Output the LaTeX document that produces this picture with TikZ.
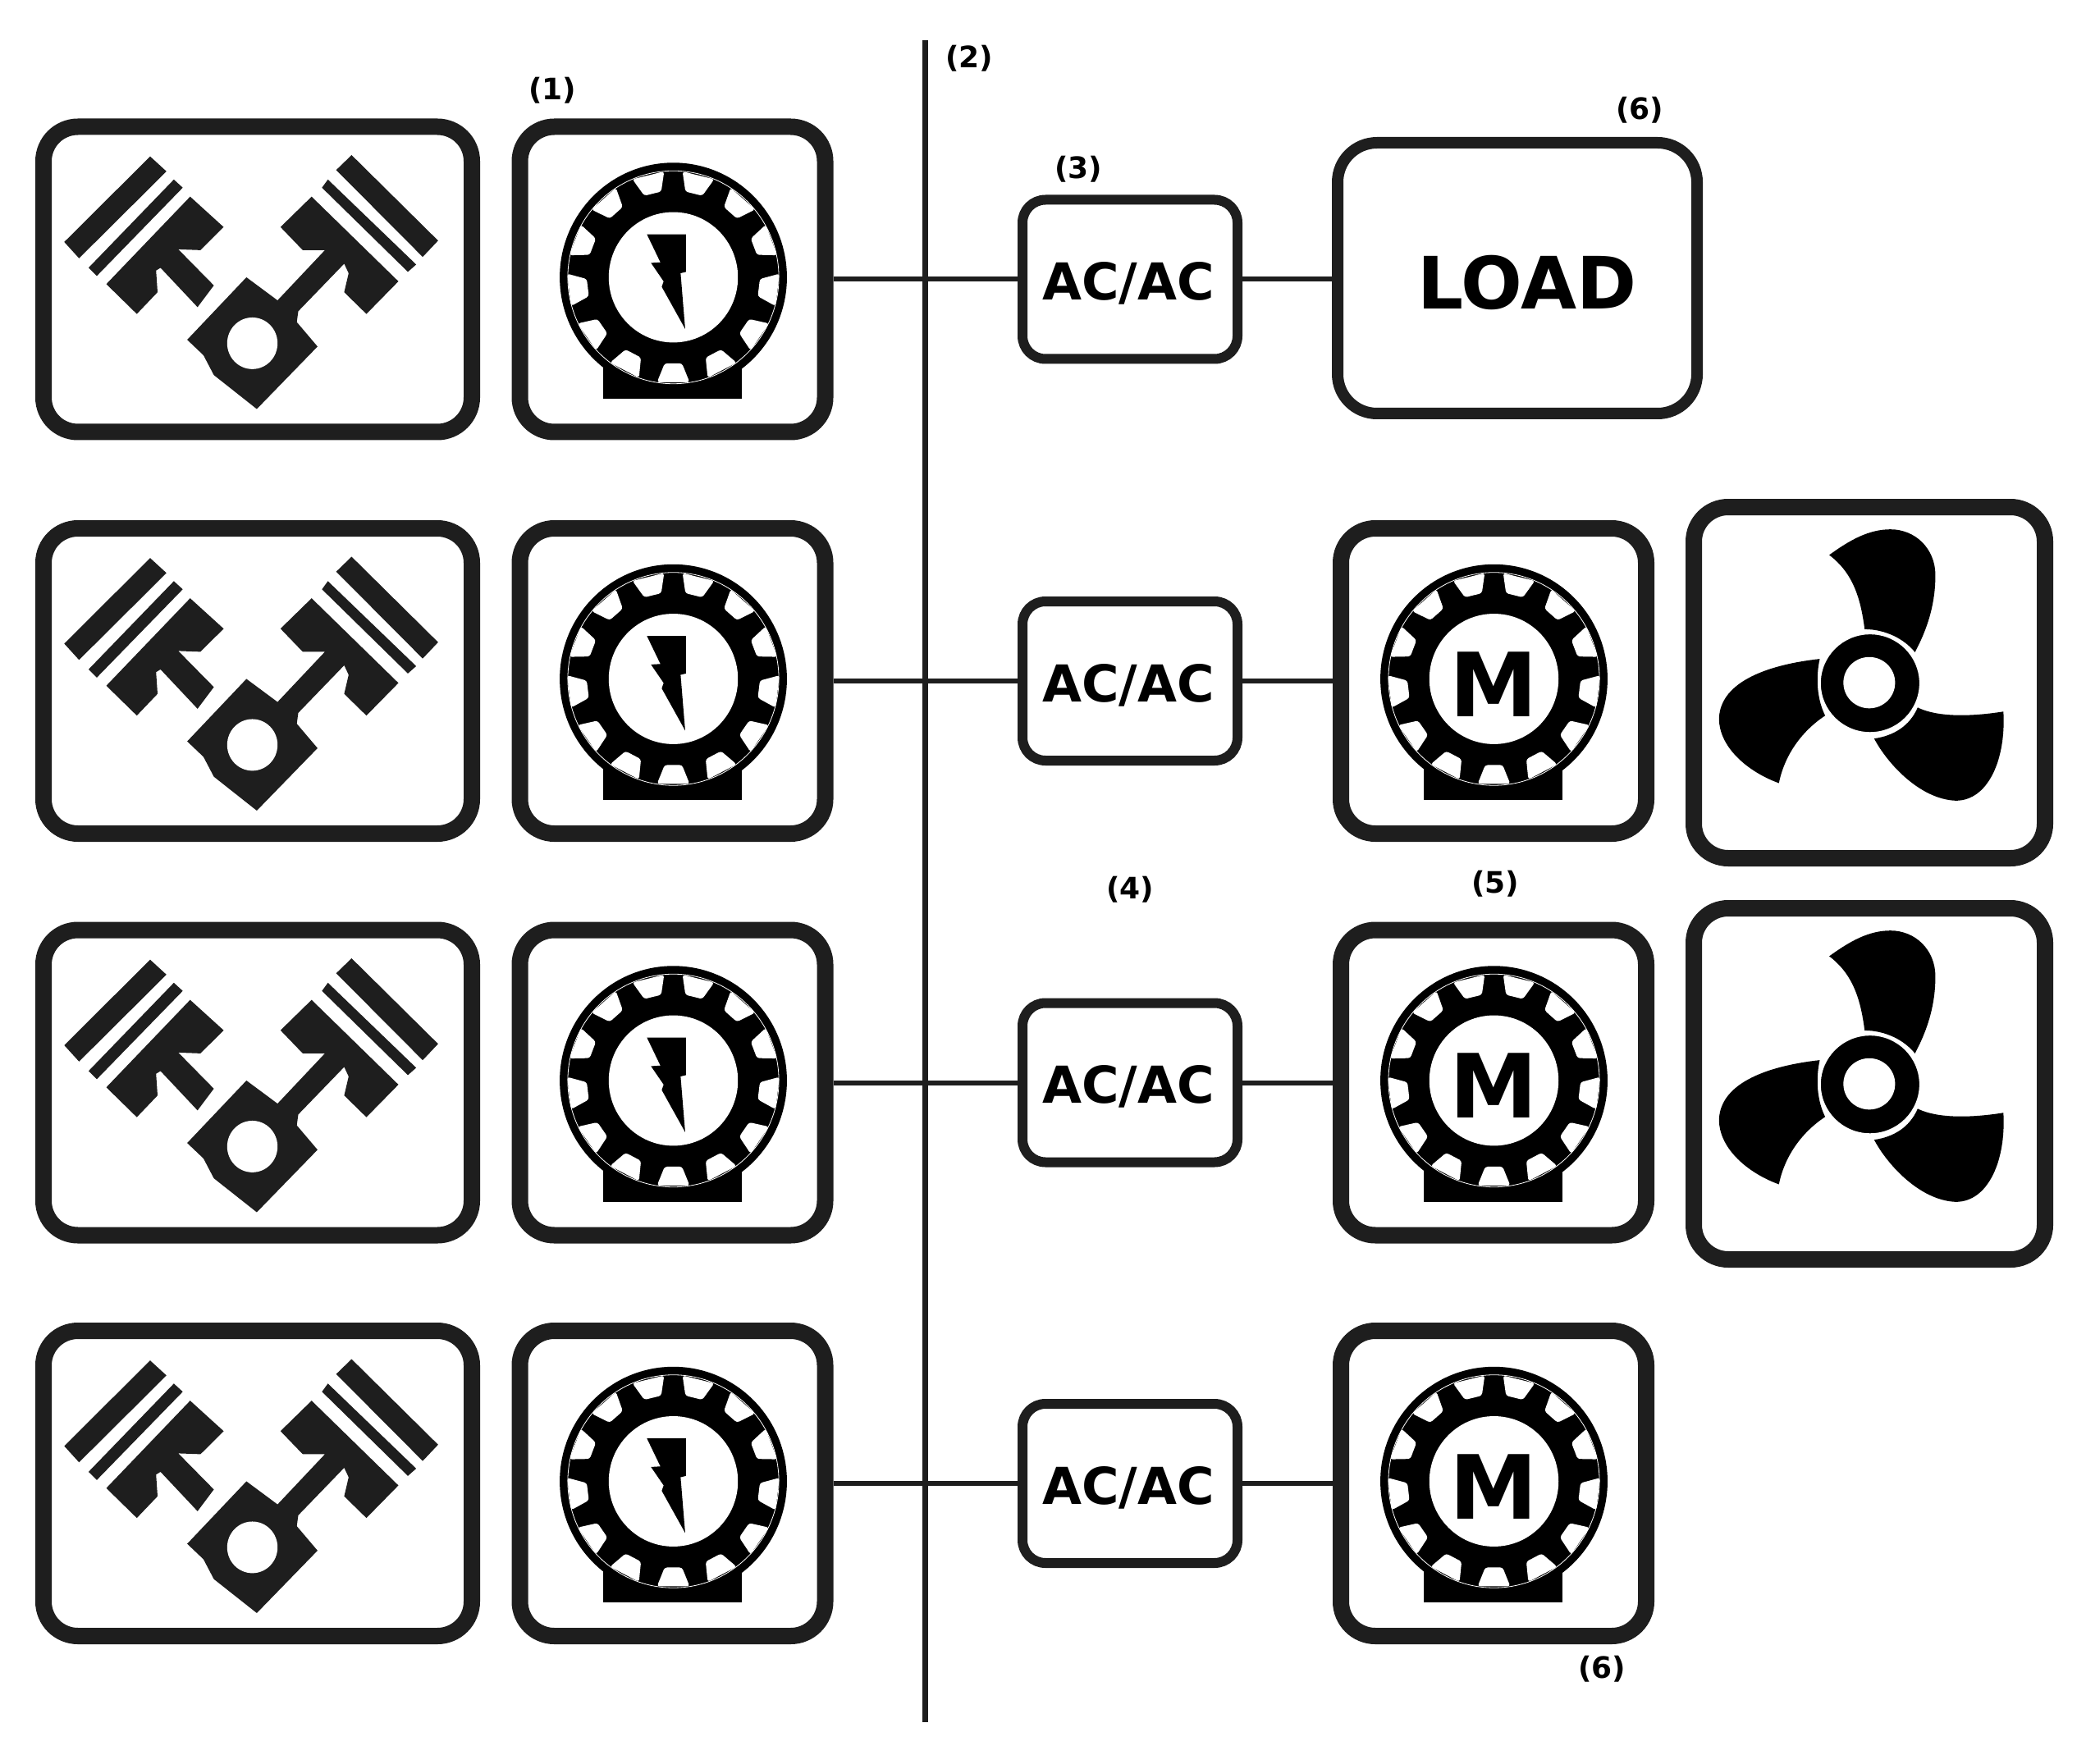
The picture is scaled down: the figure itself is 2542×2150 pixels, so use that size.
\documentclass[tikz,border=0pt]{standalone}
\usepackage{fontspec}
\setmainfont{DejaVu Sans}
\definecolor{ink}{HTML}{1E1E1E}
\tikzset{
  x=0.5pt,y=-0.5pt,
  boxbase/.style={draw=ink,fill=white,rounded corners=21pt,inner sep=0pt,line width=10pt},
  enginebox/.style={boxbase,minimum width=261pt,minimum height=186pt},
  machinebox/.style={boxbase,minimum width=186pt,minimum height=186pt},
  fanbox/.style={boxbase,minimum width=214pt,minimum height=214pt},
  loadbox/.style={boxbase,line width=7pt,rounded corners=24pt,minimum width=219pt,minimum height=165pt},
  convbox/.style={boxbase,line width=6pt,rounded corners=14pt,minimum width=131pt,minimum height=97pt},
  convtext/.style={inner sep=0pt,font=\bfseries\fontsize{31}{31}\selectfont},
  tag/.style={inner sep=0pt,font=\bfseries\fontsize{18}{18}\selectfont},
  wire/.style={draw=ink,line width=3pt},
  busline/.style={draw=ink,line width=3.5pt},
}
\newcommand{\enginesym}[2]{%
 \begin{scope}[shift={(#1,#2)},x=0.1805pt,y=-0.1655pt,shift={(-35,-45)}]
  \fill[ink] (420,180)--(475,235)--(180,555)--(130,495)--cycle;
  \fill[ink] (500,265)--(530,295)--(240,620)--(212,590)--cycle;
  \fill[ink] (555,328)--(668,440)--(590,525)--(515,522)--(635,655)--(580,735)--(455,590)--(440,600)--(445,680)--(375,760)--(272,650)--cycle;
  \fill[ink] (1100,175)--(1048,230)--(1340,550)--(1392,490)--cycle;
  \fill[ink] (1020,265)--(1000,295)--(1290,605)--(1318,578)--cycle;
  \fill[ink] (965,328)--(860,440)--(935,525)--(1010,525)--(850,710)--(745,625)--(545,855)--(600,912)--(635,985)--(780,1110)--(985,880)--(915,790)--(920,750)--(1075,575)--(1090,610)--(1075,680)--(1150,760)--(1258,640)--cycle;
  \fill[white] (765,868) ellipse [x radius=85,y radius=95];
 \end{scope}}
\newcommand{\rotorsym}[2]{%
 \begin{scope}[shift={(#1,#2)},x=0.164pt,y=-0.1655pt,shift={(-35,-45)}]
  \fill[black] (368,900) rectangle (882,1072);
  \fill[black] (628,625) circle [radius=422];
  \draw[white,line width=0.4pt] (628,625) circle [radius=392];
  \foreach \a in {-90,-62.3,-34.6,-6.9,20.8,48.5,76.2,103.8,131.5,159.2,186.9,214.6,242.3}{
    \fill[white,rotate around={\a:(628,625)},rounded corners=1.5pt]
      (628+320,625-32)--(628+390,625-60)--(628+390,625+60)--(628+320,625+32)--cycle;}
  \fill[white] (628,625) circle [radius=240];
 \end{scope}}
\newcommand{\boltsym}[2]{%
 \begin{scope}[shift={(#1,#2)},x=0.164pt,y=-0.1655pt,shift={(-35,-45)}]
  \fill[black] (530,467)--(675,467)--(675,605)--(655,610)--(672,815)--(585,660)--(592,640)--(545,572)--(580,570)--cycle;
 \end{scope}}
\newcommand{\fansym}[2]{%
 \begin{scope}[shift={(#1,#2)},x=0.1658pt,y=-0.1645pt,shift={(-40,-40)}]
  \fill[black] (565,245) .. controls (640,190) and (710,150) .. (790,150) .. controls (880,150) and (955,220) .. (955,320) .. controls (955,420) and (930,510) .. (880,605) .. controls (840,555) and (770,520) .. (695,520) .. controls (680,400) and (650,310) .. (565,245) -- cycle;
  \fill[black] (530,630) .. controls (350,650) and (165,710) .. (160,850) .. controls (160,960) and (270,1050) .. (380,1090) .. controls (400,990) and (460,900) .. (550,840) .. controls (520,780) and (515,700) .. (530,630) -- cycle;
  \fill[black] (1205,825) .. controls (1215,1000) and (1150,1155) .. (1030,1155) .. controls (900,1150) and (780,1020) .. (730,925) .. controls (800,915) and (860,880) .. (890,810) .. controls (960,845) and (1080,845) .. (1205,825) -- cycle;
  \draw[white,line width=1pt,fill=black] (715,720) circle [radius=184];
  \fill[white] (712,718) circle [radius=95];
 \end{scope}}
\begin{document}
\begin{tikzpicture}
\useasboundingbox[fill=white] (0,0) rectangle (2542,2150);
\coordinate (bustop) at (1127,49);
\coordinate (busbot) at (1127,2099);
\draw[busline] (bustop) -- (busbot);
\node[tag] (t2) at (1181,71) {(2)};
\foreach \i/\y in {1/340.5,2/830,3/1319.5,4/1808}{
  \node[enginebox] (e\i) at (314,\y) {};
  \node[machinebox] (g\i) at (819.5,\y) {};
  \node[convbox] (c\i) at (1377,\y) {};
  \node[convtext] (ct\i) at (1375,\y+5) {AC/AC};
  \draw[wire] (g\i.east) -- (c\i.west);
  \pgfmathsetmacro{\ytop}{\y-194.5}
  \enginesym{44}{\ytop}
  \rotorsym{626}{\ytop}
  \boltsym{626}{\ytop}
}
\node[loadbox] (load) at (1849,339) {};
\node[inner sep=0pt,font=\bfseries\fontsize{44}{44}\selectfont] (loadtext) at (1861,344) {LOAD};
\draw[wire] (c1.east) -- (c1.east -| load.west);
\foreach \i/\y in {2/830,3/1319.5,4/1808}{
  \node[machinebox] (m\i) at (1820,\y) {};
  \draw[wire] (c\i.east) -- (m\i.west);
  \pgfmathsetmacro{\ytop}{\y-194.5}
  \rotorsym{1626}{\ytop}
  \node[inner sep=0pt,font=\bfseries\fontsize{54}{54}\selectfont] (mt\i) at (1820,\y+4) {M};
}
\foreach \i/\y in {1/832,2/1321}{
  \node[fanbox] (f\i) at (2278,\y) {};
  \pgfmathsetmacro{\ytop}{\y-223}
  \fansym{2055}{\ytop}
}
\node[tag] (t1) at (673,110) {(1)};
\node[tag] (t3) at (1314,206) {(3)};
\node[tag] (t4) at (1377,1084) {(4)};
\node[tag] (t5) at (1822,1077) {(5)};
\node[tag] (t6) at (1998,134) {(6)};
\node[tag] (t7) at (1952,2034) {(6)};
\end{tikzpicture}
\end{document}
